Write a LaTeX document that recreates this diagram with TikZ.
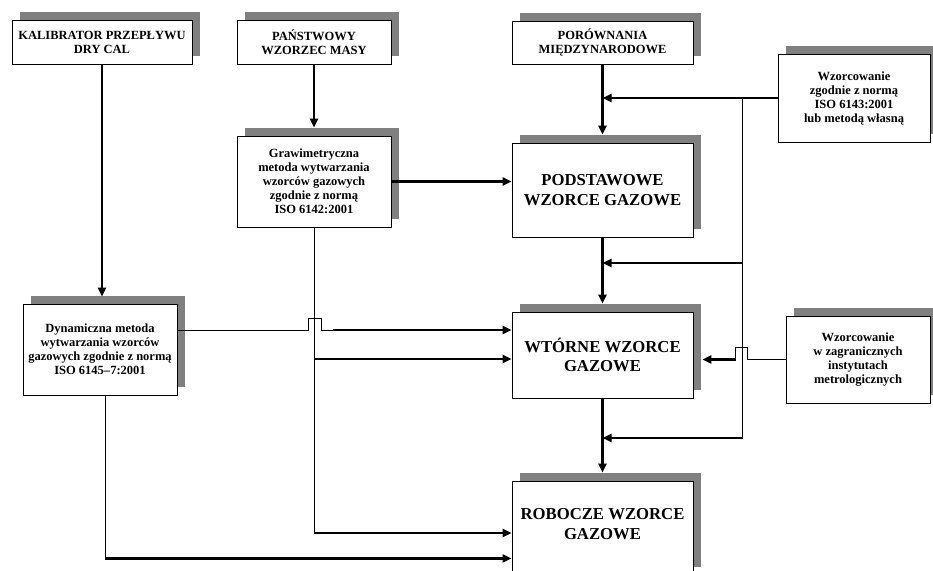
\documentclass[tikz,border=0pt]{standalone}
\usepackage{fontspec}
\setmainfont{Liberation Serif}
\usetikzlibrary{arrows.meta,shadows,calc}
\definecolor{shgray}{HTML}{808080}
\begin{document}
\begin{tikzpicture}[x=1pt,y=-1pt,
  box/.style={draw=black, line width=0.9pt, fill=white, align=center, inner sep=0pt,
    general shadow={fill=shgray, shadow xshift=8pt, shadow yshift=8pt},
    font=\fontsize{12.5}{14}\selectfont\bfseries},
  big/.style={font=\fontsize{16.7}{19.5}\selectfont\bfseries, align=center},
  thk/.style={line width=2.3pt, -{Triangle[length=9pt,width=8pt]}},
  thn/.style={line width=0.8pt}]
\useasboundingbox (0,0) rectangle (933,570);
\clip (0,0) rectangle (933,570);
\fill[white] (0,0) rectangle (933,570);

% boxes
\node[box, minimum width=180pt, minimum height=44pt] (K) at (102,42) {KALIBRATOR PRZEPŁYWU\\DRY CAL};
\node[box, minimum width=154pt, minimum height=44pt] (P) at (314,42) {PAŃSTWOWY\\WZORZEC MASY};
\node[box, minimum width=181pt, minimum height=43pt] (Por) at (602.5,42.5) {PORÓWNANIA\\MIĘDZYNARODOWE};
\node[box, minimum width=152pt, minimum height=88pt] (WzA) at (854,98) {Wzorcowanie\\zgodnie z normą\\ISO 6143:2001\\lub metodą własną};
\node[box, minimum width=154pt, minimum height=91pt] (Graw) at (314,181.5) {Grawimetryczna\\metoda wytwarzania\\wzorców gazowych\\zgodnie z normą\\ISO 6142:2001};
\node[box, big, minimum width=181pt, minimum height=94pt] (Podst) at (602.5,190) {PODSTAWOWE\\WZORCE GAZOWE};
\node[box, minimum width=154pt, minimum height=91pt] (Dyn) at (100,349.5) {Dynamiczna metoda\\wytwarzania wzorców\\gazowych zgodnie z normą\\ISO 6145–7:2001};
\node[box, big, minimum width=181pt, minimum height=86pt] (Wt) at (602.5,355) {WTÓRNE WZORCE\\GAZOWE};
\node[box, minimum width=144pt, minimum height=87pt] (WzB) at (858,359.5) {Wzorcowanie\\w zagranicznych\\instytutach\\metrologicznych};
\node[box, minimum width=181pt, minimum height=94pt] (Rob) at (602.5,528) {};
\node[big] (RobT) at (602.5,524) {ROBOCZE WZORCE\\GAZOWE};

% vertical feeds
\draw[thk] (K.south) -- ([yshift=7pt]K.south |- Dyn.north);
\draw[thk] (P.south) -- ([yshift=8pt]P.south |- Graw.north);
\draw[thk] (Por.south) -- ([yshift=8pt]Por.south |- Podst.north);
\draw[thk] (Podst.south) -- ([yshift=8pt]Podst.south |- Wt.north);
\draw[thk] (Wt.south) -- ([yshift=8pt]Wt.south |- Rob.north);
\draw[thk] (Graw.east) -- (Graw.east -| Podst.west);

% calibration branch on the right
\coordinate (jA) at ($(WzA.west)+(-35,0)$);
\coordinate (jB) at (jA |- 0,263);
\coordinate (jC) at (jA |- 0,438);
\draw[thk] (WzA.west) -- (WzA.west -| Por.south);
\draw[thn] (jA) -- (jC);
\draw[thk] (jB) -- (jB -| Podst.south);
\draw[thk] (jC) -- (jC -| Wt.south);

% gravimetric branch
\coordinate (g1) at (Graw.south |- 0,359);
\coordinate (g2) at (Graw.south |- 0,533);
\draw[thn] (Graw.south) -- (g2);
\draw[thk] (g1) -- (g1 -| Wt.west);
\draw[thk] (g2) -- (g2 -| Rob.west);

% dynamic branch
\draw[thn] (Dyn.east |- 0,330) -- ++(131,0) -- ++(0,-12) -- ++(13,0) -- ++(0,12) -- ++(12,0) coordinate (dj);
\draw[thk] (dj) -- (dj -| Wt.west);
\draw[thn] ([xshift=5pt]Dyn.south) -- ++(0,163) coordinate (d2);
\draw[thk] (d2) -- (d2 -| Rob.west);

% foreign calibration
\draw[thn] (WzB.west) -- ++(-38,0) -- ++(0,-12) -- ++(-12,0) -- ++(0,12) coordinate (wj);
\draw[thk] (wj) -- ([xshift=9pt]wj -| Wt.east);
\end{tikzpicture}
\end{document}
